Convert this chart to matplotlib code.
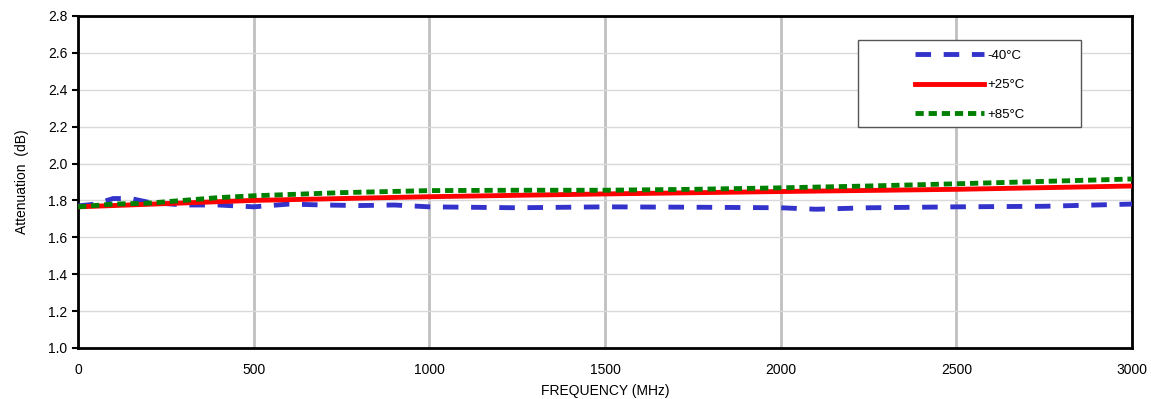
import matplotlib.pyplot as plt
from matplotlib.patches import Rectangle

plt.rcParams['font.family'] = ['Liberation Sans', 'DejaVu Sans']

# Data
freq_cold = [0, 50, 100, 150, 200, 300, 400, 500, 600, 700, 800, 900, 1000,
             1250, 1500, 1750, 2000, 2100, 2250, 2500, 2750, 3000]
att_cold = [1.77, 1.78, 1.81, 1.81, 1.79, 1.775, 1.775, 1.765, 1.78, 1.775, 1.772, 1.775, 1.765,
            1.76, 1.765, 1.763, 1.76, 1.752, 1.76, 1.765, 1.768, 1.78]

freq_room = [0, 500, 1000, 1500, 2000, 2500, 3000]
att_room = [1.765, 1.80, 1.82, 1.835, 1.848, 1.86, 1.878]

freq_hot = [0, 100, 200, 300, 400, 500, 750, 1000, 1250, 1500, 1750, 2000, 2250, 2500, 2750, 3000]
att_hot = [1.765, 1.78, 1.785, 1.80, 1.815, 1.825, 1.842, 1.853, 1.855, 1.855, 1.86, 1.868,
           1.878, 1.89, 1.903, 1.916]

fig = plt.figure(figsize=(11.51, 3.99), dpi=100)
ax = fig.add_axes([0.0678, 0.128, 0.9157, 0.832])

ax.plot(freq_cold, att_cold, color='#3333cc', lw=3.5, dashes=(3.2, 2.6), label='-40°C', zorder=3)
ax.plot(freq_room, att_room, color='red', lw=3.5, label='+25°C', zorder=3)
ax.plot(freq_hot, att_hot, color='green', lw=3.5, dashes=(1.7, 1.0), label='+85°C', zorder=3)

ax.set_xlim(0, 3000)
ax.set_ylim(1.0, 2.8)
ax.set_xticks(range(0, 3001, 500))
ax.set_yticks([1.0 + 0.2 * i for i in range(10)])
ax.set_yticklabels([f'{1.0 + 0.2 * i:.1f}' for i in range(10)])

ax.grid(axis='y', color='#d9d9d9', lw=1)
ax.grid(axis='x', color='#c0c0c0', lw=2)
ax.set_axisbelow(True)

for s in ax.spines.values():
    s.set_linewidth(2)
    s.set_color('black')

ax.tick_params(axis='x', length=0, labelsize=10, pad=11)
ax.tick_params(axis='y', length=4, width=1.5, labelsize=10)

ax.set_xlabel('FREQUENCY (MHz)', fontsize=10, labelpad=5)
ax.set_ylabel('Attenuation  (dB)', fontsize=10, labelpad=14)

# legend box drawn separately so the handles sit well inside it
box = Rectangle((0.74, 0.667), 0.212, 0.262, transform=ax.transAxes,
                facecolor='white', edgecolor='#555555', lw=1, zorder=4)
ax.add_patch(box)
leg = ax.legend(loc='upper left', bbox_to_anchor=(0.788, 0.918), fontsize=9.5,
                frameon=False, handlelength=5.2, labelspacing=1.3, borderpad=0.5,
                handletextpad=0.3, borderaxespad=0)
leg.set_zorder(5)

fig.savefig('out.png', dpi=100)
